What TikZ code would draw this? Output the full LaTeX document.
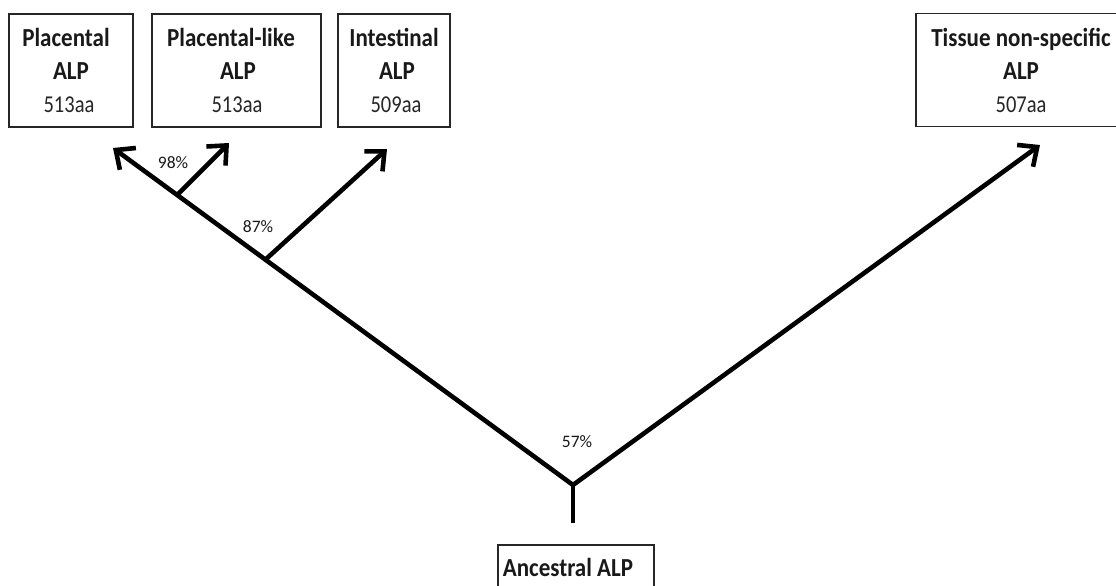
\documentclass[tikz,border=0pt]{standalone}
\usepackage{fontspec}
\setmainfont{Carlito}
\usetikzlibrary{arrows.meta}
\newcommand{\nmtxt}[1]{\scalebox{1}[1.13]{#1}}
\newcommand{\aatxt}[1]{\scalebox{1}[1.18]{#1}}
\begin{document}
\begin{tikzpicture}[x=1pt,y=-1pt,
  box/.style={draw=black!85, line width=1.3pt, inner sep=0pt, minimum height=113pt},
  nm/.style={anchor=base, inner sep=0pt, font=\fontsize{23}{23}\selectfont\bfseries, text=black!90},
  aa/.style={anchor=base, inner sep=0pt, font=\fontsize{20.5}{20.5}\selectfont, text=black!85},
  pct/.style={inner sep=0pt, font=\fontsize{17.5}{17.5}\selectfont, text=black!90},
  br/.style={line width=4.6pt, -{Straight Barb[length=15pt,width=27pt]}},
  stem/.style={line width=4.6pt}]
\clip (0,0) rectangle (1116,586);
\fill[white] (0,0) rectangle (1116,586);
% boxes
\node[box, minimum width=124pt] (plac) at (71,70.5) {};
\node[box, minimum width=169pt] (placl) at (236.5,70.5) {};
\node[box, minimum width=112pt] (intes) at (394,70.5) {};
\node[box, minimum width=212pt] (tissue) at (1022,70) {};
\node[box, minimum width=156pt, minimum height=46pt] (anc) at (576,568) {};
% texts
\node[nm] (t1a) at (66,47) {\nmtxt{Placental}};
\node[nm] (t1b) at (71,80) {\nmtxt{ALP}};
\node[aa] (t1c) at (69,112) {\aatxt{513aa}};
\node[nm] (t2a) at (231,47) {\nmtxt{Placental-like}};
\node[nm] (t2b) at (238,80) {\nmtxt{ALP}};
\node[aa] (t2c) at (237,112) {\aatxt{513aa}};
\node[nm] (t3a) at (394,47) {\nmtxt{Intestinal}};
\node[nm] (t3b) at (397,80) {\nmtxt{ALP}};
\node[aa] (t3c) at (396,112) {\aatxt{509aa}};
\node[nm] (t4a) at (1021,47) {\nmtxt{Tissue non-specific}};
\node[nm] (t4b) at (1021,80) {\nmtxt{ALP}};
\node[aa] (t4c) at (1021,112) {\aatxt{507aa}};
\node[nm] (t5) at (568,576) {\nmtxt{Ancestral ALP}};
% percentages
\node[pct] (p98) at (173,163) {98\%};
\node[pct] (p87) at (258,227) {87\%};
\node[pct] (p57) at (577,442) {57\%};
% tree
\coordinate (root) at (573,485);
\coordinate (stub) at (573,523);
\coordinate (tP) at (113,148);
\coordinate (tPL) at (229,143);
\coordinate (tI) at (387,149);
\coordinate (tT) at (1040,145);
\coordinate (b1) at (177,195);
\coordinate (b2) at (265,260);
\draw[stem] (stub) -- (root);
\draw[br] (root) -- (tP);
\draw[br] (b1) -- (tPL);
\draw[br] (b2) -- (tI);
\draw[br] (root) -- (tT);
\end{tikzpicture}
\end{document}
